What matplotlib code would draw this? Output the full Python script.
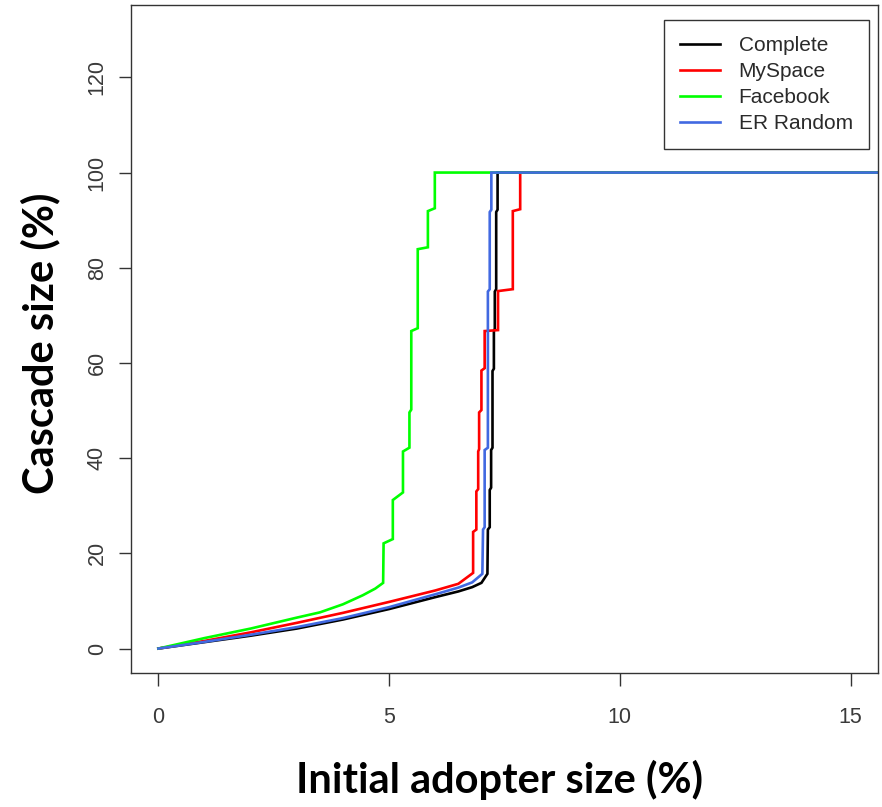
import matplotlib
matplotlib.use("Agg")
import matplotlib.pyplot as plt

# ---- data (percent) ----
complete_x = [0, 1, 2, 3, 4, 5, 6, 6.5, 6.8, 7.0, 7.13, 7.14, 7.18, 7.18, 7.21, 7.21, 7.24, 7.24,
              7.27, 7.27, 7.29, 7.29, 7.32, 7.32, 7.35, 7.35, 100]
complete_y = [0, 1.35, 2.7, 4.2, 6.1, 8.3, 10.8, 12.0, 12.9, 13.8, 15.7, 25.0, 25.5, 33.3, 33.8,
              41.7, 42.2, 58.3, 58.8, 66.7, 67.2, 75.0, 75.5, 91.7, 92.2, 100, 100]

myspace_x = [0, 1, 2, 3, 4, 5, 6, 6.5, 6.82, 6.82, 6.89, 6.89, 6.93, 6.93, 6.95, 6.95, 7.0, 7.0,
             7.07, 7.07, 7.36, 7.36, 7.68, 7.68, 7.84, 7.84, 100]
myspace_y = [0, 1.6, 3.4, 5.4, 7.5, 9.8, 12.2, 13.6, 15.9, 24.5, 25.0, 33.0, 33.5, 41.4, 41.9,
             49.6, 50.1, 58.4, 58.9, 66.7, 66.9, 75.1, 75.5, 91.9, 92.3, 100, 100]

facebook_x = [0, 1, 2, 3, 3.5, 4, 4.43, 4.7, 4.87, 4.88, 5.08, 5.08, 5.3, 5.3, 5.44, 5.44, 5.48,
              5.48, 5.62, 5.62, 5.84, 5.84, 5.99, 5.99, 100]
facebook_y = [0, 2.2, 4.2, 6.5, 7.6, 9.3, 11.2, 12.6, 13.8, 22.1, 23.0, 31.2, 32.8, 41.4, 42.2,
              49.6, 50.2, 66.7, 67.3, 83.9, 84.3, 91.9, 92.5, 100, 100]

er_x = [0, 1, 2, 3, 4, 5, 6, 6.5, 6.8, 7.02, 7.035, 7.07, 7.07, 7.14, 7.14, 7.18, 7.18, 7.215,
        7.215, 100]
er_y = [0, 1.4, 2.9, 4.5, 6.4, 8.7, 11.4, 12.8, 13.9, 15.7, 25.0, 25.5, 41.7, 42.2, 75.0, 75.5,
        91.7, 92.2, 100, 100]

series_names = ["Complete", "MySpace", "Facebook", "ER Random"]
series_colors = ["#000000", "#FF0000", "#00FF00", "#4169E1"]
x_ticks = [0, 5, 10, 15]
y_ticks = [0, 20, 40, 60, 80, 100, 120]

W, H = 882, 807
fig = plt.figure(figsize=(W / 100, H / 100), dpi=100)
ax = fig.add_axes([130.7 / W, 1 - 673.3 / H, (878.3 - 130.7) / W, (673.3 - 5) / H])

data = [(complete_x, complete_y), (myspace_x, myspace_y), (facebook_x, facebook_y), (er_x, er_y)]
for (xs, ys), name, col in zip(data, series_names, series_colors):
    ax.plot(xs, ys, color=col, lw=1.9, label=name, solid_joinstyle="miter")

ax.set_xlim(-0.6, 15.6)
ax.set_ylim(-5.2, 135.2)
ax.set_xticks(x_ticks)
ax.set_yticks(y_ticks)
ax.set_xticklabels([str(t) for t in x_ticks])
ax.set_yticklabels([str(t) for t in y_ticks], rotation=90, va="center")

for s in ax.spines.values():
    s.set_color("#333333")
    s.set_linewidth(1.0)
ax.tick_params(axis="both", direction="out", length=9, width=1.0, color="#333333",
               labelsize=15.5, labelcolor="#3a3a3a")
ax.tick_params(axis="x", pad=15)
ax.tick_params(axis="y", pad=7.5)
for lab in ax.get_xticklabels() + ax.get_yticklabels():
    lab.set_family("Liberation Sans")

fig.text(500 / W, 1 - 780 / H, "Initial adopter size (%)", ha="center", va="center",
         fontsize=30, fontweight="bold", family="Lato")
fig.text(40 / W, 1 - 343 / H, "Cascade size (%)", ha="center", va="center",
         fontsize=30, fontweight="bold", family="Lato", rotation=90)

leg = ax.legend(loc="upper right", bbox_to_anchor=(869 / W, 1 - 20 / H),
                bbox_transform=fig.transFigure, borderaxespad=0, fancybox=False,
                framealpha=1, edgecolor="#333333", handlelength=1.9, handletextpad=0.9,
                labelspacing=0.33, borderpad=0.78,
                prop={"family": "Liberation Sans", "size": 15})
leg.get_frame().set_linewidth(1.0)
for t in leg.get_texts():
    t.set_color("#2a2a2a")

fig.savefig("out.png", dpi=100)
